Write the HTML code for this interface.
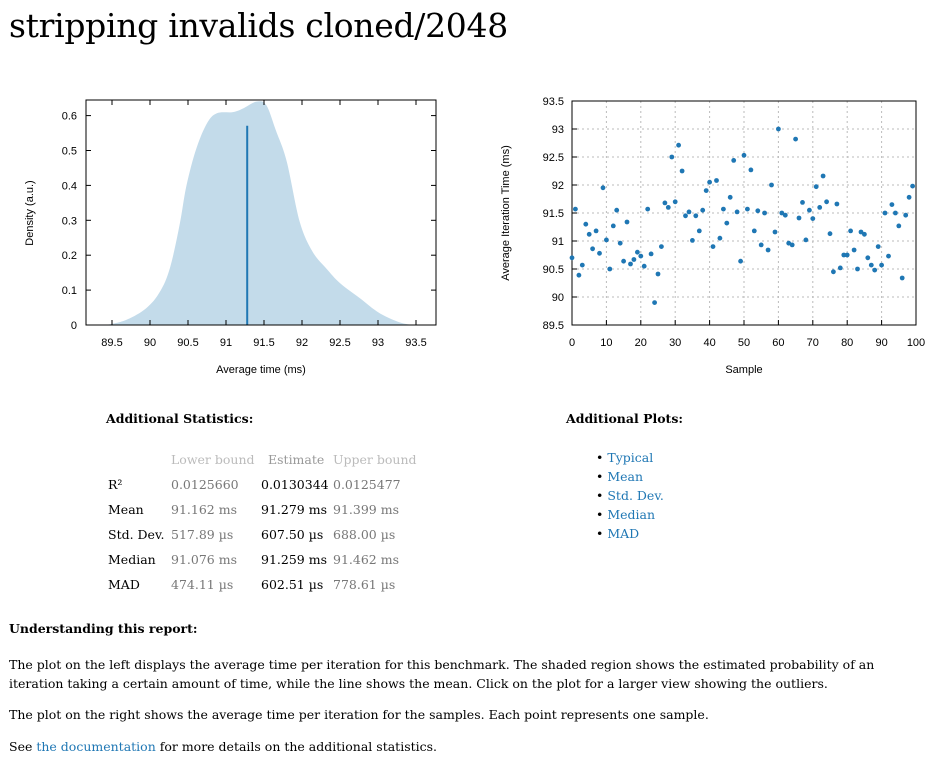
<!DOCTYPE html>
<html><head><meta charset="utf-8">
<style>
body{margin:0;width:940px;height:776px;background:#fff;font-family:"DejaVu Serif","Liberation Serif",serif;color:#000;position:relative;overflow:hidden}
.a{position:absolute;white-space:nowrap}
h1{position:absolute;left:9px;top:6px;margin:0;font-weight:normal;font-size:33px;letter-spacing:-0.3px}
.t{font-size:12.5px}
.g{color:#777}
a{color:#1f77b4;text-decoration:none}
svg text{font-family:"Liberation Sans","DejaVu Sans",sans-serif;font-size:11px}
</style></head><body>
<h1>stripping invalids cloned/2048</h1>
<svg class="a" style="left:0;top:0" width="940" height="390">
<g id="pdf"></g>
<g id="reg"></g>
</svg>

<div class="a t" style="left:106px;top:411px;font-weight:bold">Additional Statistics:</div>
<div class="a t" style="left:171px;top:452px;color:#bbb">Lower bound</div>
<div class="a t" style="left:268px;top:452px;color:#999">Estimate</div>
<div class="a t" style="left:333px;top:452px;color:#bbb">Upper bound</div>
<div>
<div class="a t" style="left:108px;top:477px">R²</div><div class="a t g" style="left:171px;top:477px">0.0125660</div><div class="a t" style="left:261px;top:477px">0.0130344</div><div class="a t g" style="left:333px;top:477px">0.0125477</div>
<div class="a t" style="left:108px;top:502px">Mean</div><div class="a t g" style="left:171px;top:502px">91.162 ms</div><div class="a t" style="left:261px;top:502px">91.279 ms</div><div class="a t g" style="left:333px;top:502px">91.399 ms</div>
<div class="a t" style="left:108px;top:527px">Std. Dev.</div><div class="a t g" style="left:171px;top:527px">517.89 µs</div><div class="a t" style="left:261px;top:527px">607.50 µs</div><div class="a t g" style="left:333px;top:527px">688.00 µs</div>
<div class="a t" style="left:108px;top:552px">Median</div><div class="a t g" style="left:171px;top:552px">91.076 ms</div><div class="a t" style="left:261px;top:552px">91.259 ms</div><div class="a t g" style="left:333px;top:552px">91.462 ms</div>
<div class="a t" style="left:108px;top:577px">MAD</div><div class="a t g" style="left:171px;top:577px">474.11 µs</div><div class="a t" style="left:261px;top:577px">602.51 µs</div><div class="a t g" style="left:333px;top:577px">778.61 µs</div>
</div>

<div class="a t" style="left:566px;top:411px;font-weight:bold">Additional Plots:</div>
<div class="a t" style="left:596px;top:448px;line-height:19px">
• <a href="#">Typical</a><br>
• <a href="#">Mean</a><br>
• <a href="#">Std. Dev.</a><br>
• <a href="#">Median</a><br>
• <a href="#">MAD</a>
</div>

<div class="a t" style="left:9px;top:621px;font-weight:bold">Understanding this report:</div>
<div class="a t" style="left:9px;top:655px;line-height:19px;white-space:normal;width:915px">The plot on the left displays the average time per iteration for this benchmark. The shaded region shows the estimated probability of an iteration taking a certain amount of time, while the line shows the mean. Click on the plot for a larger view showing the outliers.</div>
<div class="a t" style="left:9px;top:707px">The plot on the right shows the average time per iteration for the samples. Each point represents one sample.</div>
<div class="a t" style="left:9px;top:739px">See <a href="#">the documentation</a> for more details on the additional statistics.</div>

<script>
const kdeX=[89.42,89.68,89.95,90.13,90.26,90.39,90.48,90.61,90.75,90.88,91.09,91.22,91.4,91.53,91.66,91.8,91.97,92.14,92.32,92.5,92.76,93.02,93.28,93.46];
const kdeY=[0.0,0.014,0.048,0.095,0.162,0.287,0.40,0.506,0.578,0.607,0.61,0.62,0.64,0.63,0.555,0.468,0.296,0.21,0.162,0.12,0.077,0.034,0.008,0.0];
const meanValue=91.279, meanDensity=0.571;
const pdfXTicks=[89.5,90,90.5,91,91.5,92,92.5,93,93.5];
const pdfYTicks=[0,0.1,0.2,0.3,0.4,0.5,0.6];
const samples=[90.7,91.57,90.39,90.57,91.3,91.12,90.86,91.18,90.78,91.95,91.02,90.5,91.27,91.55,90.96,90.64,91.34,90.59,90.67,90.8,90.73,90.55,91.57,90.77,89.9,90.41,90.9,91.68,91.6,92.5,91.7,92.71,92.25,91.45,91.52,91.01,91.45,91.18,91.55,91.9,92.05,90.9,92.08,91.05,91.57,91.32,91.78,92.44,91.52,90.64,92.53,91.57,92.27,91.18,91.54,90.93,91.5,90.84,92.0,91.16,93.0,91.5,91.46,90.96,90.93,92.82,91.41,91.69,91.02,91.55,91.4,91.97,91.6,92.16,91.7,91.13,90.45,91.66,90.52,90.75,90.75,91.18,90.84,90.5,91.16,91.12,90.7,90.57,90.48,90.9,90.57,91.5,90.73,91.65,91.5,91.27,90.34,91.46,91.78,91.98];
const regXTicks=[0,10,20,30,40,50,60,70,80,90,100];
const regYTicks=[89.5,90,90.5,91,91.5,92,92.5,93,93.5];
const NS="http://www.w3.org/2000/svg";
function mk(p,t,a,txt){const e=document.createElementNS(NS,t);for(const k in a)e.setAttribute(k,a[k]);if(txt!=null)e.textContent=txt;p.appendChild(e);return e;}

const pdf=document.getElementById('pdf');
const px=v=>112+(v-89.5)*76, py=v=>325-v*349;
const pts=kdeX.map((x,i)=>[px(x),py(kdeY[i])]);
let d='M'+pts[0][0].toFixed(1)+','+py(0)+' L'+pts[0][0].toFixed(1)+','+pts[0][1].toFixed(1);
for(let i=0;i<pts.length-1;i++){
  const p0=pts[Math.max(0,i-1)],p1=pts[i],p2=pts[i+1],p3=pts[Math.min(pts.length-1,i+2)];
  const c1=[p1[0]+(p2[0]-p0[0])/6,p1[1]+(p2[1]-p0[1])/6],c2=[p2[0]-(p3[0]-p1[0])/6,p2[1]-(p3[1]-p1[1])/6];
  d+=' C'+c1.map(v=>v.toFixed(1)).join(',')+' '+c2.map(v=>v.toFixed(1)).join(',')+' '+p2.map(v=>v.toFixed(1)).join(',');
}
d+=' L'+pts[pts.length-1][0].toFixed(1)+','+py(0)+'Z';
const area=mk(pdf,'path',{d:d,fill:'#c3dbea'});


const ml=mk(pdf,'line',{x1:px(meanValue),x2:px(meanValue),y1:py(meanDensity),y2:325,stroke:'#1f77b4','stroke-width':2});


mk(pdf,'rect',{x:86,y:100,width:350,height:225,fill:'none',stroke:'#000','stroke-width':1});
pdfXTicks.forEach(t=>{const x=px(t);mk(pdf,'line',{x1:x,x2:x,y1:325,y2:320,stroke:'#000'});mk(pdf,'line',{x1:x,x2:x,y1:100,y2:105,stroke:'#000'});
 const l=mk(pdf,'text',{x:x,y:346,'text-anchor':'middle'},String(t));});
pdfYTicks.forEach(t=>{const y=py(t);mk(pdf,'line',{x1:86,x2:91,y1:y,y2:y,stroke:'#000'});mk(pdf,'line',{x1:436,x2:431,y1:y,y2:y,stroke:'#000'});
 const l=mk(pdf,'text',{x:77,y:y+4,'text-anchor':'end'},String(t));});
const xt=mk(pdf,'text',{x:261,y:373,'text-anchor':'middle'},'Average time (ms)');
const yt=mk(pdf,'text',{x:0,y:0,'text-anchor':'middle',transform:'translate(33,213) rotate(-90)'},'Density (a.u.)');

const reg=document.getElementById('reg');
const rx=v=>572+v*3.44, ry=v=>325-(v-89.5)*56;
regXTicks.forEach(t=>{const x=rx(t);mk(reg,'line',{x1:x,x2:x,y1:101,y2:325,stroke:'#bbb','stroke-dasharray':'2,3'});mk(reg,'line',{x1:x,x2:x,y1:325,y2:320,stroke:'#000'});
 const l=mk(reg,'text',{x:x,y:346,'text-anchor':'middle'},String(t));});
regYTicks.forEach(t=>{const y=ry(t);mk(reg,'line',{x1:572,x2:916,y1:y,y2:y,stroke:'#bbb','stroke-dasharray':'2,3'});mk(reg,'line',{x1:572,x2:577,y1:y,y2:y,stroke:'#000'});
 const l=mk(reg,'text',{x:564,y:y+4,'text-anchor':'end'},String(t));});
mk(reg,'rect',{x:572,y:101,width:344,height:224,fill:'none',stroke:'#000','stroke-width':1});
samples.forEach((v,i)=>{const c=mk(reg,'circle',{cx:rx(i).toFixed(1),cy:ry(v).toFixed(1),r:2.4,fill:'#1f77b4'});
 
 });
const xt2=mk(reg,'text',{x:744,y:373,'text-anchor':'middle'},'Sample');
const yt2=mk(reg,'text',{x:0,y:0,'text-anchor':'middle',transform:'translate(509,213) rotate(-90)'},'Average Iteration Time (ms)');
</script>
</body></html>
